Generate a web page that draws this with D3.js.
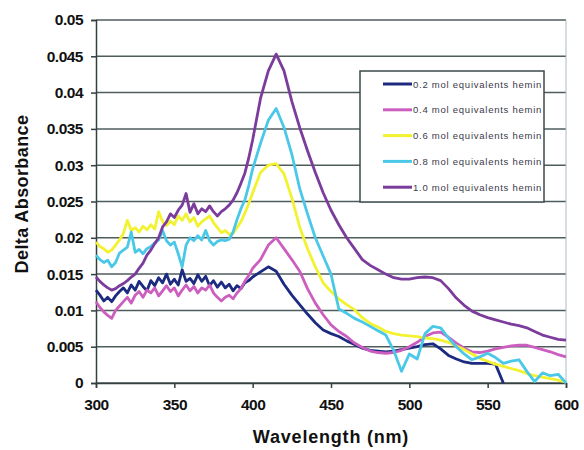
<!DOCTYPE html>
<html>
<head>
<meta charset="utf-8">
<script src="https://cdn.jsdelivr.net/npm/d3@7"></script>
<style>
  body { margin: 0; background: #fff; }
  svg { display: block; font-family: "Liberation Sans", Arial, sans-serif; }
</style>
</head>
<body>
<div id="chart"></div>
<script>
// wavelengths in nm (finer step where the signal is noisy)
const wavelengths = [
  300, 302.5, 305, 307.5, 310, 312.5, 315, 317.5, 320, 322.5,
  325, 327.5, 330, 332.5, 335, 337.5, 340, 342.5, 345, 347.5,
  350, 352.5, 355, 357.5, 360, 362.5, 365, 367.5, 370, 372.5,
  375, 377.5, 380, 382.5, 385, 387.5, 390, 392.5, 395, 397.5, 400,
  405, 410, 415, 420, 425, 430, 435, 440, 445, 450,
  455, 460, 465, 470, 475, 480, 485, 490, 495, 500,
  505, 510, 515, 520, 525, 530, 535, 540, 545, 550,
  555, 560, 565, 570, 575, 580, 585, 590, 595, 600
];

const seriesNames = [
  "0.2 mol equivalents hemin",
  "0.4 mol equivalents hemin",
  "0.6 mol equivalents hemin",
  "0.8 mol equivalents hemin",
  "1.0 mol equivalents hemin"
];

const hemin02 = [
  0.0128, 0.0121, 0.0113, 0.0118, 0.0112, 0.0120, 0.0126, 0.0131, 0.0124, 0.0135,
  0.0128, 0.0140, 0.0133, 0.0127, 0.0141, 0.0134, 0.0145, 0.0138, 0.0150, 0.0136,
  0.0143, 0.0135, 0.0156, 0.0140, 0.0144, 0.0137, 0.0149, 0.0140, 0.0147, 0.0134,
  0.0141, 0.0132, 0.0139, 0.0131, 0.0136, 0.0127, 0.0134, 0.0130, 0.0138, 0.0141, 0.0146,
  0.0153, 0.0160, 0.0154, 0.0136, 0.0121, 0.0108, 0.0095, 0.0083, 0.0073, 0.0068,
  0.0064, 0.0058, 0.0053, 0.0048, 0.0045, 0.0044, 0.0043, 0.0044, 0.0046, 0.0048,
  0.0050, 0.0053, 0.0054, 0.0047, 0.0038, 0.0033, 0.0029, 0.0027, 0.0027, 0.0027,
  0.0026, 0.0000, null, null, null, null, null, null, null, null
];

const hemin04 = [
  0.0112, 0.0104, 0.0098, 0.0093, 0.0089, 0.0100, 0.0106, 0.0112, 0.0118, 0.0110,
  0.0121, 0.0126, 0.0118, 0.0128, 0.0124, 0.0131, 0.0120, 0.0127, 0.0134, 0.0126,
  0.0131, 0.0120, 0.0128, 0.0135, 0.0127, 0.0133, 0.0124, 0.0131, 0.0128, 0.0135,
  0.0124, 0.0118, 0.0113, 0.0118, 0.0121, 0.0116, 0.0124, 0.0130, 0.0140, 0.0148, 0.0158,
  0.0170, 0.0190, 0.0200, 0.0185, 0.0170, 0.0154, 0.0130, 0.0110, 0.0094, 0.0080,
  0.0071, 0.0064, 0.0055, 0.0049, 0.0044, 0.0042, 0.0041, 0.0042, 0.0045, 0.0050,
  0.0056, 0.0064, 0.0069, 0.0070, 0.0063, 0.0055, 0.0048, 0.0043, 0.0042, 0.0044,
  0.0047, 0.0049, 0.0051, 0.0052, 0.0052, 0.0049, 0.0046, 0.0043, 0.0039, 0.0036
];

const hemin06 = [
  0.0194, 0.0188, 0.0185, 0.0180, 0.0183, 0.0190, 0.0197, 0.0206, 0.0224, 0.0210,
  0.0214, 0.0208, 0.0216, 0.0211, 0.0218, 0.0212, 0.0236, 0.0222, 0.0217, 0.0223,
  0.0218, 0.0230, 0.0224, 0.0233, 0.0222, 0.0228, 0.0216, 0.0222, 0.0226, 0.0230,
  0.0221, 0.0214, 0.0207, 0.0210, 0.0205, 0.0206, 0.0214, 0.0222, 0.0234, 0.0247, 0.0262,
  0.0290, 0.0300, 0.0302, 0.0288, 0.0255, 0.0215, 0.0185, 0.0160, 0.0138, 0.0126,
  0.0116, 0.0108, 0.0101, 0.0090, 0.0082, 0.0077, 0.0071, 0.0068, 0.0066, 0.0065,
  0.0064, 0.0062, 0.0061, 0.0059, 0.0056, 0.0051, 0.0046, 0.0040, 0.0034, 0.0030,
  0.0026, 0.0023, 0.0020, 0.0017, 0.0013, 0.0010, 0.0008, 0.0006, 0.0004, 0.0001
];

const hemin08 = [
  0.0176, 0.0170, 0.0166, 0.0169, 0.0160, 0.0166, 0.0179, 0.0183, 0.0187, 0.0208,
  0.0180, 0.0184, 0.0178, 0.0185, 0.0188, 0.0193, 0.0197, 0.0210, 0.0196, 0.0190,
  0.0194, 0.0178, 0.0160, 0.0190, 0.0200, 0.0196, 0.0203, 0.0197, 0.0210, 0.0196,
  0.0190, 0.0195, 0.0197, 0.0196, 0.0198, 0.0208, 0.0225, 0.0240, 0.0252, 0.0272, 0.0295,
  0.0330, 0.0362, 0.0378, 0.0352, 0.0315, 0.0268, 0.0233, 0.0200, 0.0175, 0.0150,
  0.0102, 0.0096, 0.0089, 0.0084, 0.0078, 0.0072, 0.0066, 0.0045, 0.0016, 0.0040,
  0.0033, 0.0068, 0.0078, 0.0076, 0.0062, 0.0050, 0.0040, 0.0032, 0.0036, 0.0041,
  0.0035, 0.0027, 0.0030, 0.0032, 0.0016, 0.0002, 0.0014, 0.0010, 0.0012, 0.0000
];

const hemin10 = [
  0.0146, 0.0140, 0.0135, 0.0131, 0.0128, 0.0130, 0.0134, 0.0137, 0.0141, 0.0146,
  0.0150, 0.0158, 0.0165, 0.0176, 0.0183, 0.0192, 0.0200, 0.0215, 0.0222, 0.0233,
  0.0228, 0.0238, 0.0245, 0.0261, 0.0235, 0.0247, 0.0233, 0.0240, 0.0236, 0.0244,
  0.0236, 0.0230, 0.0236, 0.0240, 0.0245, 0.0252, 0.0262, 0.0275, 0.0289, 0.0310, 0.0335,
  0.0392, 0.0430, 0.0453, 0.0430, 0.0388, 0.0352, 0.0320, 0.0290, 0.0262, 0.0238,
  0.0218, 0.0200, 0.0185, 0.0170, 0.0162, 0.0156, 0.0150, 0.0145, 0.0143, 0.0143,
  0.0145, 0.0146, 0.0145, 0.0141, 0.0130, 0.0117, 0.0107, 0.0099, 0.0094, 0.0090,
  0.0087, 0.0084, 0.0081, 0.0079, 0.0076, 0.0071, 0.0066, 0.0063, 0.0060, 0.0059
];

const seriesValues = [hemin02, hemin04, hemin06, hemin08, hemin10];
const colors = ["#1c2a80", "#cc5ec0", "#f2f230", "#4ac8e8", "#7b3c9c"];

const xTicks = [300, 350, 400, 450, 500, 550, 600];
const yTicks = [0, 0.005, 0.01, 0.015, 0.02, 0.025, 0.03, 0.035, 0.04, 0.045, 0.05];

const width = 584, height = 450;
const margin = { top: 20, right: 18, bottom: 67, left: 96 };
const plotW = width - margin.left - margin.right;
const plotH = height - margin.top - margin.bottom;

const svg = d3.select("#chart").append("svg")
  .attr("width", width)
  .attr("height", height);

const g = svg.append("g")
  .attr("transform", `translate(${margin.left},${margin.top})`);

const x = d3.scaleLinear().domain([300, 600]).range([0, plotW]);
const y = d3.scaleLinear().domain([0, 0.05]).range([plotH, 0]);

// horizontal gridlines
g.append("g")
  .selectAll("line")
  .data(yTicks)
  .enter()
  .append("line")
  .attr("x1", 0)
  .attr("x2", plotW)
  .attr("y1", d => y(d))
  .attr("y2", d => y(d))
  .attr("stroke", "#4f5c5c")
  .attr("stroke-width", 1.5);

// faint right border of plot area
g.append("line")
  .attr("x1", plotW).attr("x2", plotW)
  .attr("y1", 0).attr("y2", plotH)
  .attr("stroke", "#a9bcc6")
  .attr("stroke-width", 1);

// y axis
const yAxis = g.append("g")
  .call(d3.axisLeft(y).tickValues(yTicks).tickSize(5).tickPadding(8).tickFormat(d => d3.format("")(+d.toFixed(3))));

// x axis
const xAxis = g.append("g")
  .attr("transform", `translate(0,${plotH})`)
  .call(d3.axisBottom(x).tickValues(xTicks).tickSize(5).tickPadding(11).tickFormat(d3.format("d")));

[yAxis, xAxis].forEach(ax => {
  ax.select(".domain").attr("stroke", "#33403f").attr("stroke-width", 1.5);
  ax.selectAll(".tick line").attr("stroke", "#33403f").attr("stroke-width", 1.5);
  ax.selectAll(".tick text")
    .attr("fill", "#111")
    .style("font-size", "15.5px")
    .style("font-weight", "bold")
    .style("letter-spacing", "-0.5px")
    .style("font-family", "'Liberation Sans', Arial, sans-serif");
});

// data lines
const line = d3.line()
  .defined(d => d[1] !== null)
  .x(d => x(d[0]))
  .y(d => y(d[1]));

seriesValues.forEach((vals, i) => {
  const pts = wavelengths.map((w, j) => [w, vals[j]]);
  g.append("path")
    .datum(pts)
    .attr("fill", "none")
    .attr("stroke", colors[i])
    .attr("stroke-width", 2.8)
    .attr("stroke-linejoin", "round")
    .attr("d", line);
});

// legend
const legend = svg.append("g").attr("transform", "translate(360,71)");
legend.append("rect")
  .attr("width", 184)
  .attr("height", 131)
  .attr("fill", "#fff")
  .attr("stroke", "#3d4a4a")
  .attr("stroke-width", 1.5);

seriesNames.forEach((name, i) => {
  const ly = 13 + i * 25.8;
  legend.append("line")
    .attr("x1", 23).attr("x2", 52)
    .attr("y1", ly).attr("y2", ly)
    .attr("stroke", colors[i])
    .attr("stroke-width", 3);
  legend.append("text")
    .attr("x", 53)
    .attr("y", ly + 3.5)
    .attr("fill", "#3a3a4a")
    .style("font-size", "9.5px")
    .style("letter-spacing", "0.75px")
    .text(name);
});

// axis titles
svg.append("text")
  .attr("x", margin.left + plotW / 2)
  .attr("y", 443)
  .attr("text-anchor", "middle")
  .attr("fill", "#111")
  .style("font-size", "18px")
  .style("font-weight", "bold")
  .style("letter-spacing", "0.8px")
  .text("Wavelength (nm)");

svg.append("text")
  .attr("transform", "translate(28,194) rotate(-90)")
  .attr("text-anchor", "middle")
  .attr("fill", "#111")
  .style("font-size", "18px")
  .style("font-weight", "bold")
  .style("letter-spacing", "0.4px")
  .text("Delta Absorbance");
</script>
</body>
</html>
